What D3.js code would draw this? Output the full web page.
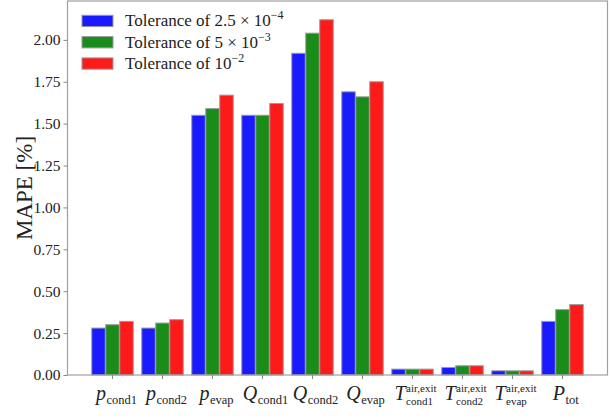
<!DOCTYPE html>
<html><head><meta charset="utf-8">
<script src="https://cdn.jsdelivr.net/npm/d3@7"></script>
<style>body{margin:0;background:#fff;} svg{display:block;}</style>
</head><body><svg id="c" width="611" height="418"></svg>
<script>
const categories = [
  {main:"p", sub:"cond1"}, {main:"p", sub:"cond2"}, {main:"p", sub:"evap"},
  {main:"Q", sub:"cond1"}, {main:"Q", sub:"cond2"}, {main:"Q", sub:"evap"},
  {main:"T", sup:"air,exit", sub:"cond1"}, {main:"T", sup:"air,exit", sub:"cond2"},
  {main:"T", sup:"air,exit", sub:"evap"}, {main:"P", sub:"tot"}
];
const tol25e5 = [0.28, 0.28, 1.55, 1.55, 1.92, 1.69, 0.035, 0.045, 0.025, 0.32];
const tol5e3  = [0.30, 0.31, 1.59, 1.55, 2.04, 1.66, 0.035, 0.055, 0.025, 0.39];
const tol1e2  = [0.32, 0.33, 1.67, 1.62, 2.12, 1.75, 0.035, 0.055, 0.025, 0.42];
const seriesNames = [["Tolerance of 2.5 × 10","−4"],["Tolerance of 5 × 10","−3"],["Tolerance of 10","−2"]];
const seriesColors = ["#1a1aff", "#1a8c1a", "#ff1a1a"];
const yTicks = [0,0.25,0.5,0.75,1,1.25,1.5,1.75,2];

const series = [tol25e5, tol5e3, tol1e2];
const svg = d3.select("#c");
const FONT = "'Liberation Serif', 'DejaVu Serif', serif";
const L = 67.5, R = 607.5, T = 1, B = 375;
const x = d3.scaleLinear().domain([-0.9, 9.9]).range([L, R]);
const y = d3.scaleLinear().domain([0, 2.232]).range([B, T]);
const offs = [-0.28, 0, 0.28], bw = 0.27;

// bars
series.forEach((vals, s) => {
  svg.append("g").selectAll("rect").data(vals).join("rect")
    .attr("x", (d,i) => x(i + offs[s] - bw/2))
    .attr("width", x(bw) - x(0))
    .attr("y", d => y(d))
    .attr("height", d => y(0) - y(d))
    .attr("fill", seriesColors[s])
    .attr("stroke", "#9a9a9a").attr("stroke-width", 1);
});

// spines
svg.append("rect").attr("x", L).attr("y", T).attr("width", R-L).attr("height", B-T)
  .attr("fill","none").attr("stroke","#a0a0a0").attr("stroke-width",1.2);

// y axis
const ya = svg.append("g").attr("transform", `translate(${L},0)`)
  .call(d3.axisLeft(y).tickValues(yTicks).tickFormat(d3.format(".2f")).tickSize(4).tickPadding(3));
ya.select(".domain").remove();
ya.selectAll("line").attr("stroke","#888");
ya.selectAll("text").attr("font-family",FONT).attr("font-size",15.5).attr("fill","#222");

svg.append("text").attr("transform", `translate(32,${(T+B)/2}) rotate(-90)`)
  .attr("text-anchor","middle").attr("font-family",FONT).attr("font-size",23).attr("fill","#222")
  .text("MAPE [%]");

// x ticks: tick marks plus horizontal labels centred under each group
const xg = svg.append("g");
categories.forEach((c, i) => {
  const cx = x(i);
  xg.append("line").attr("x1",cx).attr("x2",cx).attr("y1",B).attr("y2",B+4).attr("stroke","#888");
  const parts = [];
  const mt = xg.append("text").attr("x",0).attr("y",0).attr("font-family",FONT).attr("font-style","italic")
    .attr("font-size",20).attr("fill","#222").text(c.main);
  parts.push(mt);
  const mw = mt.node().getComputedTextLength();
  if (c.sup) {
    parts.push(xg.append("text").attr("x", mw + 0.5).attr("y", -8).attr("font-family",FONT)
      .attr("font-size",11).attr("fill","#222").text(c.sup));
    parts.push(xg.append("text").attr("x", mw + 0.5).attr("y", 5).attr("font-family",FONT)
      .attr("font-size",11).attr("fill","#222").text(c.sub));
  } else {
    parts.push(xg.append("text").attr("x", mw + 0.5).attr("y", 4).attr("font-family",FONT)
      .attr("font-size",12.5).attr("fill","#222").text(c.sub));
  }
  let x0=Infinity,x1=-Infinity;
  parts.forEach(p => { const b = p.node().getBBox(); x0=Math.min(x0,b.x); x1=Math.max(x1,b.x+b.width); });
  const dx = cx + 3 - (x0 + x1)/2, dy = 400;
  parts.forEach(p => p.attr("transform", `translate(${dx},${dy})`));
});

// legend
const lg = svg.append("g");
seriesNames.forEach((n, i) => {
  const yy = 15.3 + i*21.3;
  lg.append("rect").attr("x",82).attr("y",yy).attr("width",31).attr("height",11.3)
    .attr("fill",seriesColors[i]).attr("stroke","#9a9a9a").attr("stroke-width",1);
  const t = lg.append("text").attr("x",125).attr("y",yy+11).attr("font-family",FONT)
    .attr("font-size",17).attr("fill","#222");
  t.append("tspan").text(n[0]);
  t.append("tspan").attr("dy",-7).attr("font-size",12).text(n[1]);
});
</script></body></html>
